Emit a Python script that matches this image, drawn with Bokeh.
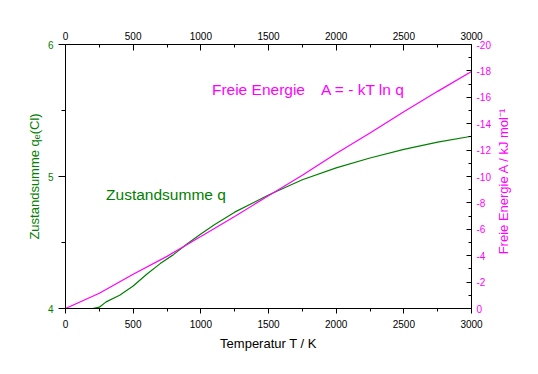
import math
from bokeh.plotting import figure
from bokeh.models import Range1d, LinearAxis, FixedTicker, Label
from bokeh.embed import file_html
from bokeh.resources import INLINE

# ---- data ----
T_q = [0, 100, 200, 250, 300, 400, 500, 600, 700, 800, 900, 1000, 1100, 1250,
       1500, 1750, 2000, 2250, 2500, 2750, 3000]
q_vals = [4.0, 4.0, 4.0, 4.01, 4.05, 4.10, 4.17, 4.26, 4.34, 4.41, 4.49, 4.565,
          4.635, 4.73, 4.86, 4.975, 5.065, 5.14, 5.205, 5.26, 5.305]

T_A = [0, 250, 500, 750, 1000, 1250, 1500, 1750, 2000, 2250, 2500, 2750, 3000]
A_vals = [0, -1.15, -2.6, -3.95, -5.45, -6.97, -8.55, -10.1, -11.75, -13.3,
          -14.9, -16.45, -17.95]

x_ticks = [0, 500, 1000, 1500, 2000, 2500, 3000]
x_minor = [250, 750, 1250, 1750, 2250, 2750]
q_ticks = [4, 5, 6]
q_minor = [4.5, 5.5]
A_ticks = [0, -2, -4, -6, -8, -10, -12, -14, -16, -18, -20]
A_tick_labels = ["0", "-2", "-4", "-6", "-8", "-10", "-12", "-14", "-16", "-18", "-20"]
A_minor = [-1, -3, -5, -7, -9, -11, -13, -15, -17, -19]

GREEN = "#008000"
MAGENTA = "#FF00FF"
FONT = "Liberation Sans"

p = figure(frame_width=406, frame_height=264,
           min_border_left=65, min_border_right=59,
           min_border_top=44, min_border_bottom=58,
           x_range=Range1d(0, 3000), y_range=Range1d(4, 6),
           output_backend="svg", toolbar_location=None)
p.outline_line_color = None
p.xgrid.visible = False
p.ygrid.visible = False
p.extra_y_ranges = {"A": Range1d(start=0, end=-20)}

# bottom axis
xa = p.xaxis[0]
xa.ticker = FixedTicker(ticks=x_ticks, minor_ticks=x_minor)
xa.axis_label = "Temperatur T / K"

# left axis
ya = p.yaxis[0]
ya.ticker = FixedTicker(ticks=q_ticks, minor_ticks=q_minor)
ya.axis_label = "Zustandsumme q\u2091(Cl)"

# top axis
top = LinearAxis(ticker=FixedTicker(ticks=x_ticks, minor_ticks=x_minor))
p.add_layout(top, "above")

# right axis (title reads bottom to top, starting from the lower part of the axis)
right = LinearAxis(y_range_name="A",
                   ticker=FixedTicker(ticks=A_ticks, minor_ticks=A_minor),
                   axis_label="\u00a0" * 15 + "Freie Energie A / kJ mol\u207b\u00b9")
right.major_label_overrides = {t: s for t, s in zip(A_ticks, A_tick_labels)}
right.axis_label_orientation = math.pi / 2
if hasattr(right, "axis_label_align"):
    right.axis_label_align = "end"
p.add_layout(right, "right")

for ax in (xa, ya, top, right):
    ax.axis_line_color = "black"
    ax.axis_line_width = 1
    ax.major_tick_line_color = "black"
    ax.minor_tick_line_color = "black"
    ax.major_label_text_font = FONT
    ax.major_label_text_font_size = "10px"
    ax.axis_label_text_font = FONT
    ax.axis_label_text_font_size = "13px"
    ax.axis_label_text_font_style = "normal"

xa.major_tick_out = 5
xa.major_tick_in = 0
xa.minor_tick_out = 3
xa.minor_tick_in = 0
xa.major_label_standoff = 6
xa.axis_label_standoff = 5
xa.major_label_text_color = "black"
xa.axis_label_text_color = "black"

top.major_tick_out = 0
top.major_tick_in = 6
top.minor_tick_out = 0
top.minor_tick_in = 3
top.major_label_standoff = 5
top.major_label_text_color = "black"

ya.major_tick_out = 7
ya.major_tick_in = 0
ya.minor_tick_out = 4
ya.minor_tick_in = 0
ya.major_label_standoff = 5
ya.axis_label_standoff = 3
ya.major_label_text_color = GREEN
ya.axis_label_text_color = GREEN

right.major_tick_out = 0
right.major_tick_in = 5
right.minor_tick_out = 0
right.minor_tick_in = 3
right.major_label_standoff = 5
right.axis_label_standoff = 10
right.major_label_text_color = MAGENTA
right.axis_label_text_color = MAGENTA

# curves
p.line(T_q, q_vals, line_color=GREEN, line_width=1.2)
p.line(T_A, A_vals, y_range_name="A", line_color=MAGENTA, line_width=1.2)

# in-plot texts
for txt, x, y, col in [("Freie Energie", 1082, 5.657, MAGENTA),
                       ("A = - kT ln q", 1888, 5.657, MAGENTA),
                       ("Zustandsumme q", 300, 4.861, GREEN)]:
    p.add_layout(Label(x=x, y=y, text=txt, text_color=col, text_font=FONT,
                       text_font_size="15.5px", text_baseline="alphabetic"))

open("out.html", "w").write(file_html(p, INLINE))
